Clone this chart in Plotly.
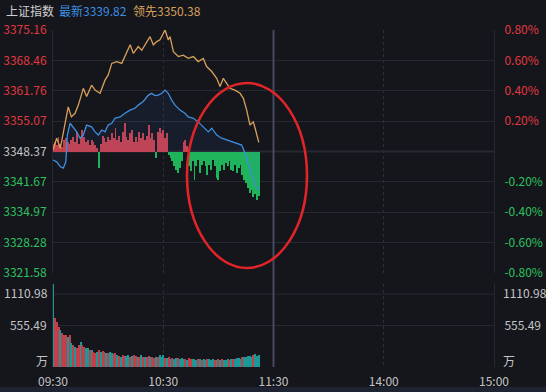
import plotly.graph_objects as go

# ---------------- data ----------------
PREV_CLOSE = 3348.37
price_ticks = [3375.16, 3368.46, 3361.76, 3355.07, 3348.37, 3341.67, 3334.97, 3328.28, 3321.58]
pct_ticks = [0.8, 0.6, 0.4, 0.2, -0.2, -0.4, -0.6, -0.8]
time_tickvals = [0, 60, 120, 180, 240]
time_ticktext = ["09:30", "10:30", "11:30", "14:00", "15:00"]
grid_minutes = [60, 180]
VOL_MAX = 1110.98
VOL_MID = 555.49
vol_top_text = "1110.98"
vol_unit_text = "万"

# weighted index (blue), minutes after 09:30
index_minutes = [0, 2, 4, 5.6, 7, 7.8, 9.3, 11, 12.9, 14.7, 16.5, 18.3, 21, 22.9, 24.7, 26.5, 28.3, 30,
                 32, 33.7, 36.5, 39.2, 41.9, 44.6, 46.4, 49.1, 51.9, 53.7, 55.5, 57.3, 59.2, 61, 62.7,
                 64.6, 66.4, 69.1, 71.8, 73.6, 76.4, 79, 81.8, 84.5, 86.4, 89.1, 91.8, 94.5, 97.3, 100,
                 102.7, 104.5, 106.3, 108.1, 110, 112]
index_values = [3346.5, 3346.1, 3345.0, 3344.7, 3346.1, 3352.0, 3354.6, 3353.8, 3352.7, 3351.3, 3352.0,
                3354.2, 3353.8, 3352.7, 3352.0, 3353.1, 3352.7, 3354.2, 3354.6, 3355.7, 3356.0, 3356.8,
                3357.5, 3357.9, 3358.6, 3359.4, 3360.8, 3361.2, 3360.7, 3360.8, 3361.2, 3361.9, 3361.2,
                3359.7, 3358.6, 3357.5, 3356.8, 3356.0, 3355.7, 3354.9, 3353.8, 3352.7, 3353.5, 3352.0,
                3351.3, 3350.9, 3350.5, 3350.2, 3349.8, 3348.0, 3345.4, 3343.2, 3341.0, 3339.82]

# leading (unweighted) index (orange)
lead_minutes = [0, 2, 4, 6.5, 8.3, 10, 12, 13.8, 16.5, 18.3, 21, 22.9, 25.6, 28.3, 30, 32, 34.7, 37.4,
                39, 42, 43.7, 46.4, 48.3, 51, 52.8, 54.6, 56.5, 58.2, 61, 62.7, 63.7, 65.5, 68.2, 70.9,
                73.6, 76.4, 79, 81.8, 83.6, 86.4, 89.1, 90.9, 92.7, 94.5, 96.3, 99, 101.8, 103.6, 105.4,
                107.2, 109, 110, 112]
lead_values = [3348.7, 3351.3, 3349.1, 3354.9, 3358.2, 3356.0, 3356.8, 3358.6, 3362.3, 3360.5, 3363.0,
               3361.9, 3361.2, 3364.1, 3365.2, 3367.8, 3368.2, 3367.8, 3369.3, 3371.9, 3370.0, 3371.5,
               3370.7, 3372.6, 3373.7, 3371.9, 3372.6, 3373.0, 3375.16, 3373.0, 3373.7, 3370.4, 3369.3,
               3369.6, 3368.9, 3369.3, 3368.2, 3368.9, 3367.1, 3366.0, 3364.5, 3362.7, 3364.5, 3363.4,
               3362.3, 3361.9, 3361.2, 3360.1, 3357.5, 3354.2, 3354.9, 3353.5, 3350.38]

# per-minute strength bars (points relative to previous close)
strength = [1.7, 2.0, 1.5, 3.2, 1.7, 1.1, 2.6, 2.9, 2.0, 1.7,
            2.6, 3.2, 2.0, 4.4, 1.7, 2.9, 4.8, 3.2, 2.0, 2.6,
            1.5, 2.6, 2.0, 1.5, 0.7, -3.7, 1.7, 3.5, 2.9, 2.0,
            3.2, 2.6, 4.0, 2.9, 5.1, 2.6, 3.5, 2.0, 4.4, 6.2,
            3.2, 2.6, 4.0, 4.8, 2.0, 3.2, 2.0, 4.4, 2.9, 4.0,
            2.6, 3.5, 5.9, 2.9, 4.0, 2.6, -1.5, 4.4, 5.1, 4.0,
            4.8, 2.9, 4.0, -0.7, -1.5, -2.2, -3.3, -4.0, -4.8, -3.7,
            -2.2, 2.0, 2.6, 1.2, -3.3, -4.4, -2.2, -6.2, -3.3, -1.8,
            -4.8, -2.9, -2.2, -3.3, -5.1, -2.9, -4.0, -1.8, -3.3, -5.9,
            -6.2, -4.4, -2.9, -4.0, -2.6, -3.3, -2.2, -4.0, -4.4, -2.9,
            -4.8, -3.7, -2.9, -5.1, -6.2, -7.0, -8.0, -9.2, -8.5, -10.0,
            -9.4, -10.8, -9.9]

# volume (万)
volume = [1110.98, 651, 607, 540, 495, 450, 428, 428, 406, 428,
          317, 295, 272, 250, 295, 339, 295, 272, 250, 250,
          228, 228, 205, 192, 205, 228, 205, 219, 205, 183,
          192, 205, 183, 174, 183, 161, 147, 138, 161, 147,
          147, 161, 138, 147, 161, 147, 138, 138, 161, 138,
          129, 138, 147, 129, 138, 116, 138, 129, 161, 138,
          161, 125, 118, 130, 112, 120, 108, 125, 115, 110,
          118, 105, 112, 100, 115, 108, 102, 110, 98, 105,
          112, 100, 108, 96, 104, 110, 98, 106, 100, 95,
          104, 98, 110, 100, 92, 105, 98, 112, 102, 108,
          118, 125, 112, 130, 138, 128, 145, 150, 138, 160,
          170, 150, 165]
vol_dir = ("grrrgrrrgr" "grgrrgrrgg" "rgrrgrgrrg" "rggrrgrgrr" "ggrgrrgrgr" "grrgrrgrgg"
           "grgrgrggrg" "ggrgrrgggr" "grggrgggrg" "rgrgggrgrg" "gggrgggggr" "ggg")

# ---------------- style ----------------
BG = "#15161c"
GRID = "#272932"
RED = "#e0383f"
GREEN = "#2ec25e"
GREY = "#c4c4c4"
BAR_RED = "#c7414d"
BAR_GREEN = "#1fb35b"
VOL_RED = "#c43f4a"
VOL_TEAL = "#1b9898"
FONT = "Noto Sans CJK SC"

W, H = 546, 392
L, R = 53, 52
PW = W - L - R


def py(p):  # pixel y -> paper
    return (H - p) / H


def px(p):  # pixel x -> paper
    return (p - L) / PW


minutes = list(range(len(strength)))

fig = go.Figure()

fig.add_trace(go.Bar(
    x=minutes, y=strength, base=PREV_CLOSE, width=0.5,
    marker=dict(color=[BAR_RED if v >= 0 else BAR_GREEN for v in strength], line_width=0),
    xaxis="x", yaxis="y", showlegend=False, hoverinfo="skip"))

fig.add_trace(go.Scatter(
    x=index_minutes, y=[PREV_CLOSE] * len(index_minutes), mode="lines",
    line=dict(width=0, color="rgba(0,0,0,0)"), xaxis="x", yaxis="y",
    showlegend=False, hoverinfo="skip"))
fig.add_trace(go.Scatter(
    x=index_minutes, y=index_values, mode="lines",
    line=dict(color="#3f8fe0", width=1.3), fill="tonexty",
    fillcolor="rgba(60,130,220,0.07)", xaxis="x", yaxis="y",
    showlegend=False, hoverinfo="skip"))
fig.add_trace(go.Scatter(
    x=lead_minutes, y=lead_values, mode="lines",
    line=dict(color="#d8a05a", width=1.3), xaxis="x", yaxis="y",
    showlegend=False, hoverinfo="skip"))
# percent axis companion
fig.add_trace(go.Scatter(x=[0], y=[0], mode="markers", marker=dict(opacity=0),
                         xaxis="x", yaxis="y2", showlegend=False, hoverinfo="skip"))

fig.add_trace(go.Bar(
    x=minutes, y=volume, width=0.55,
    marker=dict(color=[VOL_RED if c == "r" else VOL_TEAL for c in vol_dir], line_width=0),
    xaxis="x2", yaxis="y3", showlegend=False, hoverinfo="skip"))
fig.add_trace(go.Scatter(x=[0], y=[0], mode="markers", marker=dict(opacity=0),
                         xaxis="x2", yaxis="y4", showlegend=False, hoverinfo="skip"))


def price_color(v):
    if v > PREV_CLOSE + 0.001:
        return RED
    if v < PREV_CLOSE - 0.001:
        return GREEN
    return GREY


price_text = [f'<span style="color:{price_color(v)}">{v:.2f}</span>' for v in price_ticks]
pct_text = [f'<span style="color:{RED if v > 0 else GREEN}">{v:.2f}%</span>' for v in pct_ticks]

main_dom = [py(273), py(30)]
vol_dom = [py(367), py(284)]

fig.update_layout(
    width=W, height=H,
    margin=dict(l=L, r=R, t=0, b=0, autoexpand=False),
    paper_bgcolor=BG, plot_bgcolor=BG,
    bargap=0, barmode="overlay",
    font=dict(family=FONT, size=12, color=GREY),
    xaxis=dict(domain=[0, 1], anchor="y", range=[0, 240], tickmode="array",
               tickvals=grid_minutes, showticklabels=False, showgrid=True,
               gridcolor="#2e3039", griddash="dot", zeroline=False, showline=False,
               ticks="", automargin=False, fixedrange=True),
    xaxis2=dict(domain=[0, 1], anchor="y3", matches="x", range=[0, 240], tickmode="array",
                tickvals=time_tickvals, ticktext=time_ticktext, showgrid=True,
                gridcolor="#2e3039", griddash="dot", zeroline=False, showline=False,
                ticks="", tickfont=dict(size=12, color=GREY), ticklabelstandoff=6,
                automargin=False, fixedrange=True),
    yaxis=dict(domain=main_dom, anchor="x", range=[price_ticks[-1], price_ticks[0]],
               tickmode="array", tickvals=price_ticks, ticktext=price_text,
               showgrid=True, gridcolor=GRID, zeroline=False, showline=True,
               linecolor=GRID, ticks="", ticklabelstandoff=3, tickfont=dict(size=12),
               automargin=False),
    yaxis2=dict(overlaying="y", side="right", anchor="x", range=[-0.8, 0.8],
                tickmode="array", tickvals=pct_ticks, ticktext=pct_text,
                showgrid=False, zeroline=False, showline=True, linecolor=GRID,
                ticks="", ticklabelstandoff=7, tickfont=dict(size=12), automargin=False),
    yaxis3=dict(domain=vol_dom, anchor="x2", range=[0, VOL_MAX],
                tickmode="array", tickvals=[VOL_MID], ticktext=[f"{VOL_MID:.2f}"],
                showgrid=True, gridcolor=GRID, zeroline=False, showline=True,
                linecolor=GRID, ticks="", ticklabelstandoff=3,
                tickfont=dict(size=12, color=GREY), automargin=False),
    yaxis4=dict(overlaying="y3", side="right", anchor="x2", range=[0, VOL_MAX],
                tickmode="array", tickvals=[VOL_MID], ticktext=[f"{VOL_MID:.2f}"],
                showgrid=False, zeroline=False, showline=True, linecolor=GRID,
                ticks="", ticklabelstandoff=7, tickfont=dict(size=12, color=GREY),
                automargin=False),
    shapes=[
        dict(type="line", xref="x", yref="y", x0=0, x1=240, y0=PREV_CLOSE, y1=PREV_CLOSE,
             line=dict(color="#3a3d49", width=1.5), layer="below"),
        dict(type="line", xref="paper", yref="paper", x0=0, x1=1, y0=py(294), y1=py(294),
             line=dict(color=GRID, width=1), layer="below"),
        dict(type="line", xref="x", yref="paper", x0=120, x1=120, y0=py(367), y1=py(30),
             line=dict(color="#454a5e", width=2), layer="above"),
        dict(type="rect", xref="paper", yref="paper", x0=px(0), x1=px(W), y0=0, y1=py(387),
             fillcolor="#1d2330", line_width=0, layer="below"),
        dict(type="circle", xref="paper", yref="paper",
             x0=px(187), x1=px(307), y0=py(268), y1=py(83),
             line=dict(color="#e02428", width=2.6)),
    ],
    annotations=[
        dict(text="上证指数", xref="paper", yref="paper", x=px(4), y=py(11),
             xanchor="left", yanchor="middle", showarrow=False,
             font=dict(size=12, color="#cfcfcf")),
        dict(text="最新3339.82", xref="paper", yref="paper", x=px(57), y=py(11),
             xanchor="left", yanchor="middle", showarrow=False,
             font=dict(size=12, color="#3d8fe3")),
        dict(text="领先3350.38", xref="paper", yref="paper", x=px(131), y=py(11),
             xanchor="left", yanchor="middle", showarrow=False,
             font=dict(size=12, color="#d9a05b")),
        dict(text=vol_top_text, xref="paper", yref="paper", x=px(50), y=py(292),
             xanchor="right", yanchor="middle", showarrow=False, font=dict(size=12, color=GREY)),
        dict(text=vol_top_text, xref="paper", yref="paper", x=px(501), y=py(292),
             xanchor="left", yanchor="middle", showarrow=False, font=dict(size=12, color=GREY)),
        dict(text=vol_unit_text, xref="paper", yref="paper", x=px(50), y=py(360),
             xanchor="right", yanchor="middle", showarrow=False, font=dict(size=12, color=GREY)),
        dict(text=vol_unit_text, xref="paper", yref="paper", x=px(501), y=py(360),
             xanchor="left", yanchor="middle", showarrow=False, font=dict(size=12, color=GREY)),
    ],
)

fig.write_html("out.html")
